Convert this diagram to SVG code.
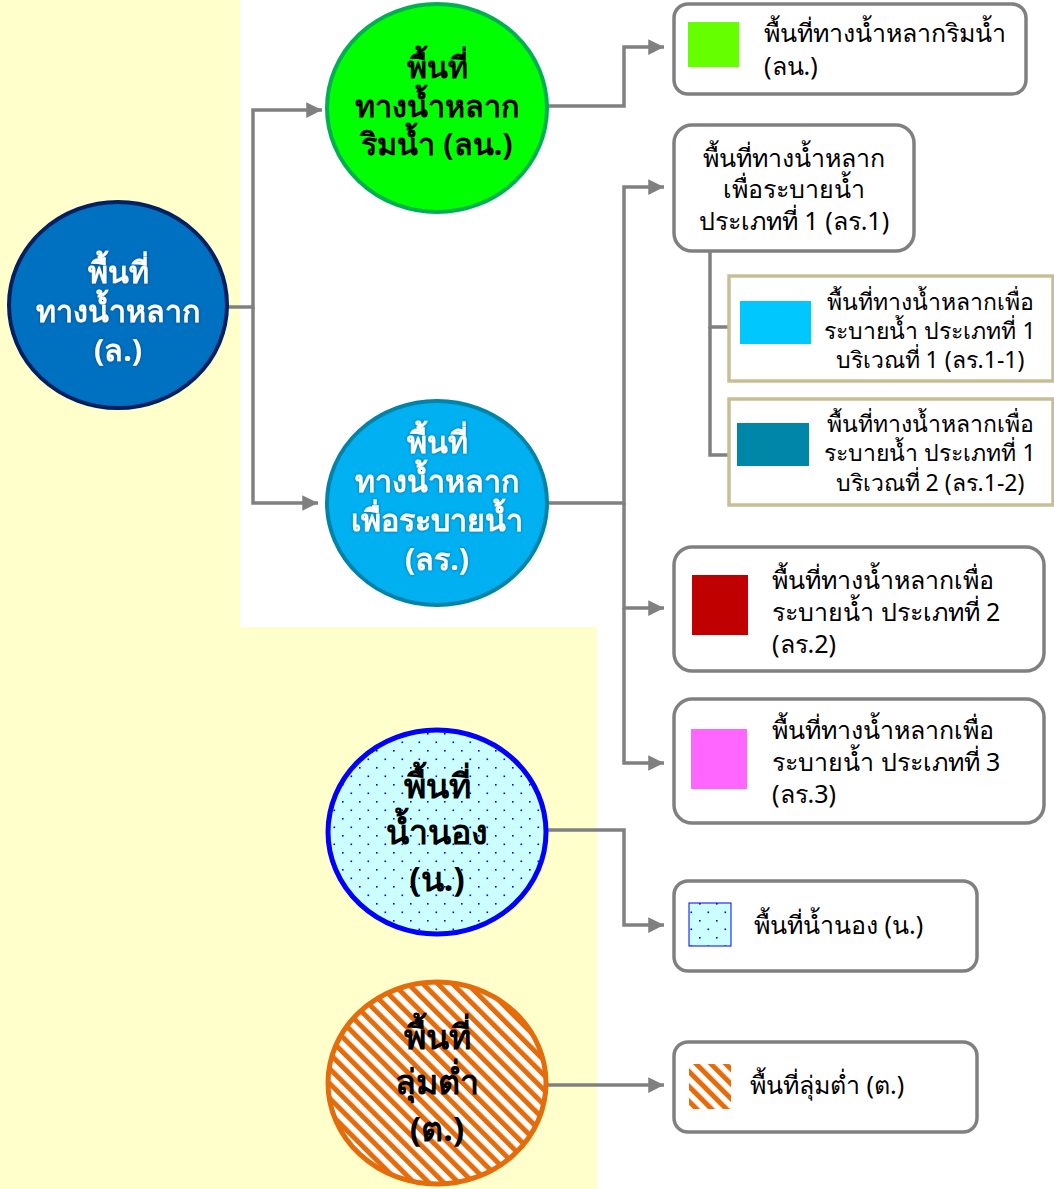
<svg xmlns="http://www.w3.org/2000/svg" width="1054" height="1189" viewBox="0 0 1054 1189">
<style>
.t{font-family:"Noto Sans","Liberation Sans",sans-serif;font-size:25px;fill:#000}
.s{font-size:23px;text-anchor:middle}
.c{font-family:"Noto Sans","Liberation Sans",sans-serif;font-weight:bold;font-size:30.5px;text-anchor:middle}
.w{fill:#fff}
.k{fill:#000}
.box{fill:#fff;stroke:#808080;stroke-width:3.5}
.tan{fill:#fff;stroke:#C8BE96;stroke-width:3.5}
.ln{fill:none;stroke:#808080;stroke-width:3.5}
</style>
<defs>
<marker id="ah" viewBox="0 0 10 10" refX="10" refY="5" markerWidth="4.5" markerHeight="4.5" markerUnits="strokeWidth" orient="auto">
<path d="M0,0 L10,5 L0,10 z" fill="#808080"/>
</marker>
<pattern id="dots" width="17" height="17" patternUnits="userSpaceOnUse">
<rect width="17" height="17" fill="#CCFFFF"/>
<rect x="2" y="2" width="1.6" height="1.6" fill="#0000FF"/>
<rect x="10.5" y="10.5" width="1.6" height="1.6" fill="#0000FF"/>
</pattern>
<pattern id="hatch" width="10.5" height="10.5" patternUnits="userSpaceOnUse" patternTransform="rotate(-45)">
<rect width="10.5" height="10.5" fill="#fff"/>
<rect width="5" height="10.5" fill="#E46C0A"/>
</pattern>
<filter id="glow" x="-20%" y="-20%" width="140%" height="140%">
<feGaussianBlur in="SourceAlpha" stdDeviation="1.5" result="b"/>
<feFlood flood-color="#003060" flood-opacity="0.6"/>
<feComposite in2="b" operator="in" result="s"/>
<feMerge><feMergeNode in="s"/><feMergeNode in="SourceGraphic"/></feMerge>
</filter>
</defs>
<polygon points="0,0 240,0 240,627 597,627 597,1189 0,1189" fill="#FFFFCC"/>

<g id="connectors">
<polyline class="ln" points="228,307 253,307 253,110 322,110" marker-end="url(#ah)"/>
<polyline class="ln" points="253,307 253,503 318,503" marker-end="url(#ah)"/>
<polyline class="ln" points="548,106 624,106 624,47 664,47" marker-end="url(#ah)"/>
<polyline class="ln" points="548,503 624,503 624,187 664,187" marker-end="url(#ah)"/>
<polyline class="ln" points="624,503 624,608 664,608" marker-end="url(#ah)"/>
<polyline class="ln" points="624,608 624,763 664,763" marker-end="url(#ah)"/>
<polyline class="ln" points="710,252 710,327 728,327"/>
<polyline class="ln" points="710,327 710,455 728,455"/>
<polyline class="ln" points="548,830 624,830 624,925 664,925" marker-end="url(#ah)"/>
<polyline class="ln" points="548,1085 664,1085" marker-end="url(#ah)"/>
</g>

<g id="n-main">
<ellipse cx="118" cy="305" rx="109" ry="103" fill="#0070C0" stroke="#002060" stroke-width="4"/>
<g class="c w" filter="url(#glow)">
<text x="118" y="283">พื้นที่</text>
<text x="118" y="322">ทางน้ำหลาก</text>
<text x="118" y="361">(ล.)</text>
</g>
</g>

<g id="n-ln">
<ellipse cx="437" cy="108" rx="110" ry="104" fill="#00FF00" stroke="#00B050" stroke-width="4"/>
<g class="c k">
<text x="437" y="78">พื้นที่</text>
<text x="437" y="117">ทางน้ำหลาก</text>
<text x="437" y="155">ริมน้ำ (ลน.)</text>
</g>
</g>

<g id="n-lr">
<ellipse cx="437" cy="503" rx="110" ry="102" fill="#00B0F0" stroke="#0083A8" stroke-width="4"/>
<g class="c w" filter="url(#glow)">
<text x="437" y="453">พื้นที่</text>
<text x="437" y="492">ทางน้ำหลาก</text>
<text x="437" y="531">เพื่อระบายน้ำ</text>
<text x="437" y="570">(ลร.)</text>
</g>
</g>

<g id="n-n">
<ellipse cx="437" cy="832" rx="109" ry="102" fill="url(#dots)" stroke="#0000FF" stroke-width="5"/>
<g class="c k" style="font-size:34px">
<text x="437" y="798">พื้นที่</text>
<text x="437" y="844">น้ำนอง</text>
<text x="437" y="891">(น.)</text>
</g>
</g>

<g id="n-t">
<ellipse cx="437" cy="1083" rx="109" ry="101" fill="url(#hatch)" stroke="#E46C0A" stroke-width="5"/>
<g class="c k" style="font-size:34px">
<text x="437" y="1049">พื้นที่</text>
<text x="437" y="1094">ลุ่มต่ำ</text>
<text x="437" y="1141">(ต.)</text>
</g>
</g>

<g id="b-ln">
<rect class="box" x="674" y="4" width="352" height="90" rx="14"/>
<rect x="688" y="22" width="51" height="45" fill="#66FF00"/>
<text class="t" x="764" y="42">พื้นที่ทางน้ำหลากริมน้ำ</text>
<text class="t" x="764" y="75">(ลน.)</text>
</g>

<g id="b-lr1">
<rect class="box" x="674" y="125" width="240" height="126" rx="18"/>
<text class="t" x="794" y="167" text-anchor="middle">พื้นที่ทางน้ำหลาก</text>
<text class="t" x="794" y="198" text-anchor="middle">เพื่อระบายน้ำ</text>
<text class="t" x="794" y="230" text-anchor="middle">ประเภทที่ 1 (ลร.1)</text>
</g>

<g id="b-lr1-1">
<rect class="tan" x="729" y="276" width="324" height="105"/>
<rect x="740" y="301" width="71" height="43" fill="#00C8FF"/>
<text class="t s" x="930" y="310">พื้นที่ทางน้ำหลากเพื่อ</text>
<text class="t s" x="930" y="339">ระบายน้ำ ประเภทที่ 1</text>
<text class="t s" x="930" y="368">บริเวณที่ 1 (ลร.1-1)</text>
</g>

<g id="b-lr1-2">
<rect class="tan" x="729" y="399" width="324" height="106"/>
<rect x="737" y="423" width="72" height="43" fill="#0086A8"/>
<text class="t s" x="930" y="432">พื้นที่ทางน้ำหลากเพื่อ</text>
<text class="t s" x="930" y="461">ระบายน้ำ ประเภทที่ 1</text>
<text class="t s" x="930" y="491">บริเวณที่ 2 (ลร.1-2)</text>
</g>

<g id="b-lr2">
<rect class="box" x="674" y="547" width="370" height="124" rx="18"/>
<rect x="692" y="575" width="56" height="60" fill="#C00000"/>
<text class="t" x="772" y="589">พื้นที่ทางน้ำหลากเพื่อ</text>
<text class="t" x="772" y="621">ระบายน้ำ ประเภทที่ 2</text>
<text class="t" x="772" y="653">(ลร.2)</text>
</g>

<g id="b-lr3">
<rect class="box" x="674" y="699" width="370" height="124" rx="18"/>
<rect x="691" y="729" width="56" height="60" fill="#FF66FF"/>
<text class="t" x="772" y="739">พื้นที่ทางน้ำหลากเพื่อ</text>
<text class="t" x="772" y="771">ระบายน้ำ ประเภทที่ 3</text>
<text class="t" x="772" y="803">(ลร.3)</text>
</g>

<g id="b-n">
<rect class="box" x="674" y="881" width="303" height="90" rx="14"/>
<rect x="689" y="903" width="42" height="43" fill="url(#dots)" stroke="#0000FF" stroke-width="1"/>
<text class="t" x="754" y="934">พื้นที่น้ำนอง (น.)</text>
</g>

<g id="b-t">
<rect class="box" x="674" y="1042" width="303" height="90" rx="14"/>
<rect x="689" y="1064" width="42" height="45" fill="url(#hatch)"/>
<text class="t" x="750" y="1094">พื้นที่ลุ่มต่ำ (ต.)</text>
</g>
</svg>
